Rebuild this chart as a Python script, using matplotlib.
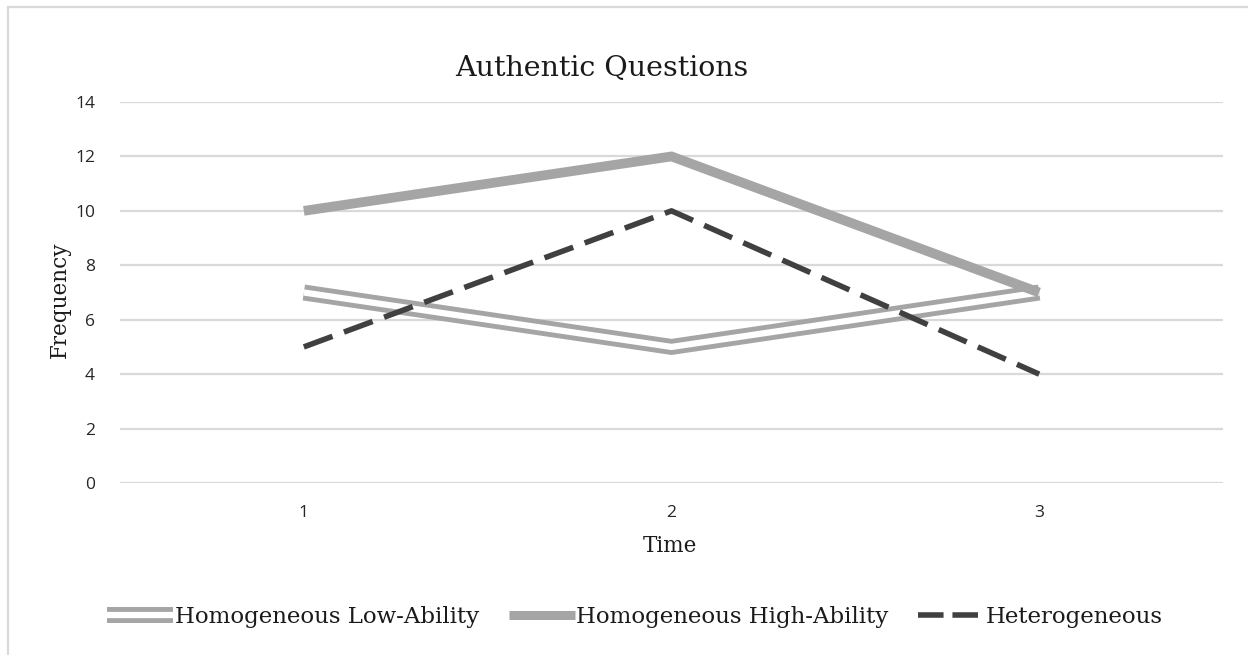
import matplotlib
matplotlib.use('Agg')
import matplotlib.pyplot as plt
from matplotlib.lines import Line2D
from matplotlib.legend_handler import HandlerTuple
from matplotlib.patches import Rectangle

times = [1, 2, 3]
low_ability = [7, 5, 7]
high_ability = [10, 12, 7]
heterogeneous = [5, 10, 4]
yticks = [0, 2, 4, 6, 8, 10, 12, 14]

W, H = 1248, 655
fig = plt.figure(figsize=(W / 100, H / 100), dpi=100)

# light frame around the chart area (as in the original screenshot)
fig.patches.append(Rectangle((8 / W, -0.1), 1.2, 1 - 7 / H + 0.1, transform=fig.transFigure,
                             fill=False, edgecolor='#D9D9D9', lw=1.6))

ax = fig.add_axes([120 / W, 1 - 483 / H, (1223 - 120) / W, (483 - 102) / H])

gray = '#A5A5A5'
dark = '#404040'

# double line: thick gray with white core
ax.plot(times, low_ability, color=gray, lw=11.5, solid_joinstyle='miter', solid_capstyle='butt', zorder=3)
ax.plot(times, low_ability, color='white', lw=4.5, solid_joinstyle='miter', solid_capstyle='butt', zorder=3)
ax.plot(times, high_ability, color=gray, lw=7, solid_joinstyle='miter', solid_capstyle='butt', zorder=4)
ax.plot(times, heterogeneous, color=dark, lw=4, dashes=(5.5, 2.2), dash_capstyle='butt', zorder=5)

ax.set_xlim(0.5, 3.5)
ax.set_ylim(0, 14)
ax.set_yticks(yticks)
ax.set_xticks(times)
ax.grid(axis='y', color='#D9D9D9', lw=1.6)
ax.set_axisbelow(True)
for s in ax.spines.values():
    s.set_visible(False)
ax.tick_params(length=0, labelsize=12.5, labelcolor='#262626')
ax.tick_params(axis='y', pad=18)
ax.tick_params(axis='x', pad=16)
for lab in ax.get_xticklabels() + ax.get_yticklabels():
    lab.set_family('Open Sans')

serif = 'DejaVu Serif'
fig.text(602 / W, 1 - 68 / H, 'Authentic Questions', ha='center', va='center',
         family=serif, fontsize=20.5, color='#1a1a1a')
fig.text(60 / W, 1 - 300 / H, 'Frequency', ha='center', va='center', rotation=90,
         family=serif, fontsize=15.5, color='#1a1a1a')
fig.text(670 / W, 1 - 546 / H, 'Time', ha='center', va='center',
         family=serif, fontsize=15.5, color='#1a1a1a')

h_low = (Line2D([], [], color=gray, lw=11.5, solid_capstyle='butt'),
         Line2D([], [], color='white', lw=4.5, solid_capstyle='butt'))
h_high = Line2D([], [], color=gray, lw=6.5, solid_capstyle='butt')
h_het = Line2D([], [], color=dark, lw=4, dashes=(4.6, 1.6), dash_capstyle='butt')
leg = fig.legend([h_low, h_high, h_het],
                 ['Homogeneous Low-Ability', 'Homogeneous High-Ability', 'Heterogeneous'],
                 handler_map={tuple: HandlerTuple(ndivide=1)},
                 loc='center', bbox_to_anchor=(635 / W, 1 - 617 / H), ncol=3, frameon=False,
                 prop={'family': serif, 'size': 16.5}, handlelength=2.9, handletextpad=0.05,
                 columnspacing=1.3)
for t in leg.get_texts():
    t.set_color('#1a1a1a')

fig.savefig('out.png', dpi=100)
